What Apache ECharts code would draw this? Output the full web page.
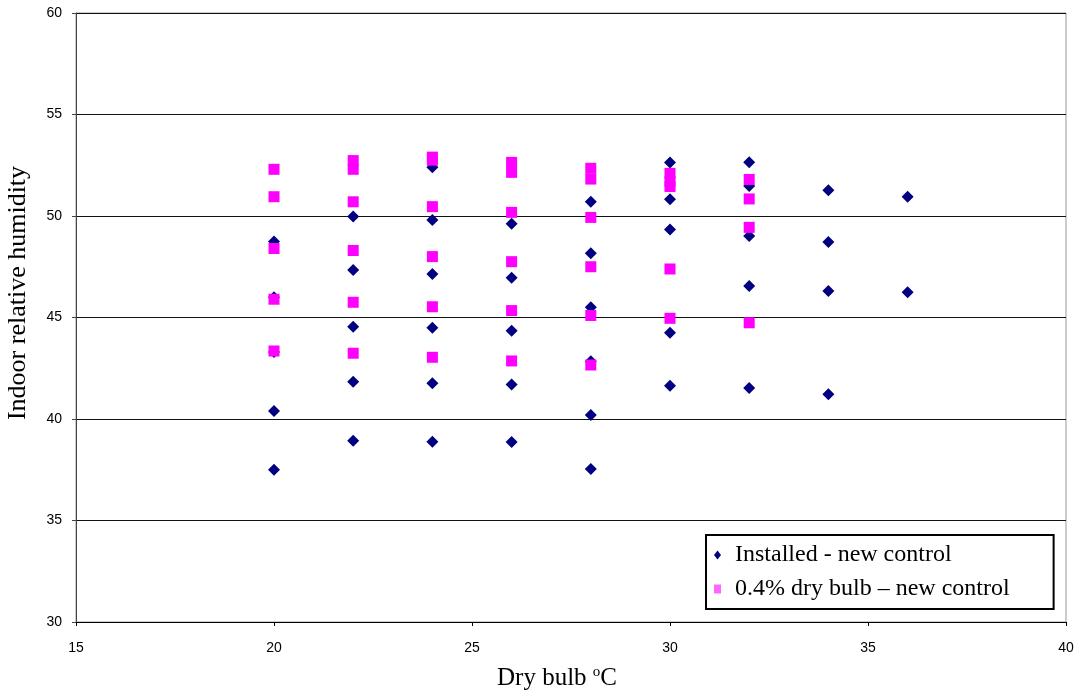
<!DOCTYPE html>
<html>
<head>
<meta charset="utf-8">
<script src="https://cdn.jsdelivr.net/npm/echarts@6/dist/echarts.min.js"></script>
<style>
  html, body { margin: 0; padding: 0; background: #fff; }
  #chart { width: 1078px; height: 692px; }
</style>
</head>
<body>
<div id="chart"></div>
<script>
// Dry bulb temperature (°C) of each measurement column
const installedX = [20, 20, 20, 20, 20,
                    22, 22, 22, 22, 22,
                    24, 24, 24, 24, 24, 24,
                    26, 26, 26, 26, 26,
                    28, 28, 28, 28, 28, 28,
                    30, 30, 30, 30, 30,
                    32, 32, 32, 32, 32,
                    34, 34, 34, 34,
                    36, 36];
// Indoor relative humidity (%) – installed unit, new control
const installedRH = [48.75, 46.0, 43.3, 40.4, 37.5,
                     49.98, 47.34, 44.55, 41.84, 38.93,
                     52.4, 49.8, 47.14, 44.5, 41.76, 38.88,
                     49.62, 46.96, 44.35, 41.7, 38.87,
                     50.7, 48.16, 45.5, 42.85, 40.2, 37.54,
                     52.63, 50.82, 49.34, 44.25, 41.64,
                     52.65, 51.48, 49.01, 46.55, 41.53,
                     51.27, 48.72, 46.31, 41.22,
                     50.95, 46.24];

// Dry bulb temperature (°C) – 0.4% design condition columns
const designX = [20, 20, 20, 20, 20,
                 22, 22, 22, 22, 22, 22,
                 24, 24, 24, 24, 24, 24,
                 26, 26, 26, 26, 26, 26,
                 28, 28, 28, 28, 28, 28,
                 30, 30, 30, 30, 30,
                 32, 32, 32, 32];
// Indoor relative humidity (%) – 0.4% dry bulb, new control
const designRH = [52.3, 50.95, 48.4, 45.9, 43.35,
                  52.73, 52.3, 50.7, 48.3, 45.75, 43.24,
                  52.9, 52.75, 50.46, 48.0, 45.53, 43.04,
                  52.64, 52.15, 50.18, 47.75, 45.34, 42.86,
                  52.35, 51.82, 49.93, 47.5, 45.1, 42.66,
                  52.1, 51.7, 51.45, 47.39, 44.96,
                  51.8, 50.84, 49.44, 44.74];

const seriesNames = ['Installed - new control', '0.4% dry bulb \u2013 new control'];

const pairs = (xs, ys) => xs.map((x, i) => [x, ys[i]]);

const chart = echarts.init(document.getElementById('chart'), null, { renderer: 'canvas' });

const axisFont = { fontFamily: '"Liberation Sans", Arial, sans-serif', fontSize: 14, color: '#000' };
const serif = '"Liberation Serif", "Times New Roman", serif';

chart.setOption({
  animation: false,
  backgroundColor: '#fff',
  grid: {
    left: 76, top: 13, right: 12, bottom: 70,
    outerBoundsMode: 'none',
    containLabel: false,
    show: true, borderColor: '#999', borderWidth: 1, backgroundColor: 'transparent'
  },
  xAxis: {
    type: 'value', min: 15, max: 40, interval: 5,
    axisLine: { show: true, onZero: false, lineStyle: { color: '#000', width: 1 } },
    axisTick: { show: true, inside: false, length: 4, lineStyle: { color: '#000' } },
    axisLabel: Object.assign({ margin: 19 }, axisFont),
    splitLine: { show: false },
    name: '{a|Dry bulb }{s|o}{a|C}',
    nameLocation: 'middle',
    nameGap: 43,
    nameTextStyle: {
      padding: [0, 28, 0, 0],
      rich: {
        a: { fontFamily: serif, fontSize: 25, color: '#000', lineHeight: 26 },
        s: { fontFamily: serif, fontSize: 15, color: '#000', verticalAlign: 'top', lineHeight: 26, padding: [0, 0, 9, 0] }
      }
    }
  },
  yAxis: {
    type: 'value', min: 30, max: 60, interval: 5,
    axisLine: { show: true, onZero: false, lineStyle: { color: '#444', width: 1 } },
    axisTick: { show: true, inside: false, length: 4, lineStyle: { color: '#444' } },
    axisLabel: Object.assign({ margin: 14 }, axisFont),
    splitLine: { show: true, lineStyle: { color: '#111', width: 1 } }
  },
  graphic: [{
    type: 'text',
    x: 18, y: 293,
    rotation: Math.PI / 2,
    style: {
      text: 'Indoor relative humidity',
      font: '26px ' + serif,
      fill: '#000',
      align: 'center',
      verticalAlign: 'middle'
    }
  }],
  legend: {
    orient: 'vertical',
    left: 706, top: 535,
    padding: [6, 44, 6, 8],
    itemGap: 6,
    itemWidth: 7, itemHeight: 9,
    borderColor: '#000', borderWidth: 2,
    backgroundColor: '#fff',
    textStyle: { fontFamily: serif, fontSize: 24, color: '#000', lineHeight: 28, padding: [0, 0, 0, 9] },
    data: [
      { name: seriesNames[0], icon: 'diamond', itemStyle: { color: '#000080', opacity: 1 } },
      { name: seriesNames[1], icon: 'rect', itemStyle: { color: '#ff66ff', opacity: 1 } }
    ]
  },
  series: [
    {
      name: seriesNames[0],
      type: 'scatter',
      symbol: 'diamond',
      symbolSize: [12, 12],
      itemStyle: { color: '#000080', opacity: 1 },
      data: pairs(installedX, installedRH),
      z: 2
    },
    {
      name: seriesNames[1],
      type: 'scatter',
      symbol: 'rect',
      symbolSize: [11, 11],
      itemStyle: { color: '#ff00ff', opacity: 1 },
      data: pairs(designX, designRH),
      z: 3
    }
  ]
});
</script>
</body>
</html>
